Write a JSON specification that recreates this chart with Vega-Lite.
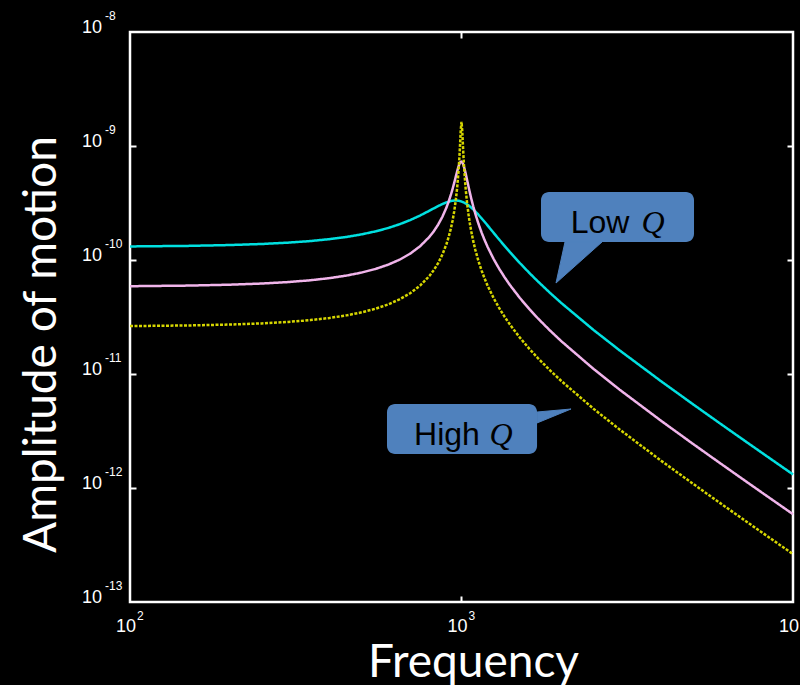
{
  "$schema": "https://vega.github.io/schema/vega-lite/v6.json",
  "width": 663,
  "height": 570,
  "autosize": {"type": "none"},
  "padding": {"left": 130, "top": 32, "right": 7, "bottom": 83},
  "background": "black",
  "config": {
    "view": {"stroke": "white", "strokeWidth": 2.5},
    "axis": {
      "domain": false, "grid": false, "labels": false,
      "tickColor": "white", "tickWidth": 2, "tickSize": -6,
      "titleColor": "white", "titleFont": "Lato", "titleFontSize": 46, "titleFontWeight": "normal"
    }
  },
  "datasets": {
    "curves": [
      {"f": 100, "c": 1.315e-10, "p": 5.889e-11, "y": 2.632e-11},
      {"f": 150, "c": 1.330e-10, "p": 5.964e-11, "y": 2.666e-11},
      {"f": 200, "c": 1.353e-10, "p": 6.072e-11, "y": 2.715e-11},
      {"f": 250, "c": 1.382e-10, "p": 6.217e-11, "y": 2.780e-11},
      {"f": 300, "c": 1.420e-10, "p": 6.404e-11, "y": 2.864e-11},
      {"f": 350, "c": 1.466e-10, "p": 6.641e-11, "y": 2.970e-11},
      {"f": 400, "c": 1.524e-10, "p": 6.935e-11, "y": 3.102e-11},
      {"f": 450, "c": 1.594e-10, "p": 7.303e-11, "y": 3.268e-11},
      {"f": 500, "c": 1.679e-10, "p": 7.762e-11, "y": 3.475e-11},
      {"f": 550, "c": 1.782e-10, "p": 8.342e-11, "y": 3.736e-11},
      {"f": 600, "c": 1.906e-10, "p": 9.084e-11, "y": 4.071e-11},
      {"f": 650, "c": 2.057e-10, "p": 1.005e-10, "y": 4.512e-11},
      {"f": 700, "c": 2.240e-10, "p": 1.136e-10, "y": 5.109e-11},
      {"f": 750, "c": 2.456e-10, "p": 1.320e-10, "y": 5.954e-11},
      {"f": 800, "c": 2.705e-10, "p": 1.594e-10, "y": 7.234e-11},
      {"f": 825, "c": 2.837e-10, "p": 1.788e-10, "y": 8.153e-11},
      {"f": 850, "c": 2.969e-10, "p": 2.041e-10, "y": 9.380e-11},
      {"f": 875, "c": 3.093e-10, "p": 2.383e-10, "y": 1.110e-10},
      {"f": 900, "c": 3.201e-10, "p": 2.869e-10, "y": 1.368e-10},
      {"f": 915, "c": 3.253e-10, "p": 3.267e-10, "y": 1.595e-10},
      {"f": 930, "c": 3.292e-10, "p": 3.780e-10, "y": 1.917e-10},
      {"f": 940, "c": 3.310e-10, "p": 4.207e-10, "y": 2.220e-10},
      {"f": 950, "c": 3.321e-10, "p": 4.716e-10, "y": 2.641e-10},
      {"f": 960, "c": 3.325e-10, "p": 5.312e-10, "y": 3.262e-10},
      {"f": 970, "c": 3.320e-10, "p": 5.977e-10, "y": 4.265e-10},
      {"f": 980, "c": 3.307e-10, "p": 6.638e-10, "y": 6.119e-10},
      {"f": 985, "c": 3.298e-10, "p": 6.921e-10, "y": 7.736e-10},
      {"f": 990, "c": 3.286e-10, "p": 7.139e-10, "y": 1.025e-9},
      {"f": 995, "c": 3.273e-10, "p": 7.267e-10, "y": 1.387e-9},
      {"f": 1000, "c": 3.258e-10, "p": 7.288e-10, "y": 1.629e-9},
      {"f": 1005, "c": 3.240e-10, "p": 7.196e-10, "y": 1.375e-9},
      {"f": 1010, "c": 3.221e-10, "p": 7.002e-10, "y": 1.011e-9},
      {"f": 1015, "c": 3.201e-10, "p": 6.729e-10, "y": 7.595e-10},
      {"f": 1020, "c": 3.178e-10, "p": 6.403e-10, "y": 5.981e-10},
      {"f": 1030, "c": 3.129e-10, "p": 5.690e-10, "y": 4.131e-10},
      {"f": 1040, "c": 3.074e-10, "p": 5.003e-10, "y": 3.129e-10},
      {"f": 1050, "c": 3.014e-10, "p": 4.399e-10, "y": 2.509e-10},
      {"f": 1060, "c": 2.950e-10, "p": 3.889e-10, "y": 2.089e-10},
      {"f": 1070, "c": 2.884e-10, "p": 3.464e-10, "y": 1.786e-10},
      {"f": 1085, "c": 2.780e-10, "p": 2.954e-10, "y": 1.463e-10},
      {"f": 1100, "c": 2.673e-10, "p": 2.561e-10, "y": 1.237e-10},
      {"f": 1125, "c": 2.494e-10, "p": 2.079e-10, "y": 9.788e-11},
      {"f": 1150, "c": 2.319e-10, "p": 1.738e-10, "y": 8.068e-11},
      {"f": 1175, "c": 2.155e-10, "p": 1.487e-10, "y": 6.838e-11},
      {"f": 1200, "c": 2.001e-10, "p": 1.295e-10, "y": 5.917e-11},
      {"f": 1250, "c": 1.731e-10, "p": 1.020e-10, "y": 4.630e-11},
      {"f": 1300, "c": 1.508e-10, "p": 8.355e-11, "y": 3.775e-11},
      {"f": 1350, "c": 1.324e-10, "p": 7.028e-11, "y": 3.167e-11},
      {"f": 1400, "c": 1.172e-10, "p": 6.032e-11, "y": 2.714e-11},
      {"f": 1500, "c": 9.398e-11, "p": 4.643e-11, "y": 2.084e-11},
      {"f": 1600, "c": 7.728e-11, "p": 3.725e-11, "y": 1.670e-11},
      {"f": 1700, "c": 6.487e-11, "p": 3.077e-11, "y": 1.379e-11},
      {"f": 1850, "c": 5.144e-11, "p": 2.402e-11, "y": 1.076e-11},
      {"f": 2000, "c": 4.197e-11, "p": 1.941e-11, "y": 8.686e-12},
      {"f": 2500, "c": 2.438e-11, "p": 1.110e-11, "y": 4.964e-12},
      {"f": 3000, "c": 1.611e-11, "p": 7.284e-12, "y": 3.258e-12},
      {"f": 4000, "c": 8.638e-12, "p": 3.886e-12, "y": 1.737e-12},
      {"f": 5000, "c": 5.410e-12, "p": 2.429e-12, "y": 1.086e-12},
      {"f": 6000, "c": 3.714e-12, "p": 1.666e-12, "y": 7.446e-13},
      {"f": 7000, "c": 2.710e-12, "p": 1.215e-12, "y": 5.429e-13},
      {"f": 8000, "c": 2.066e-12, "p": 9.253e-13, "y": 4.137e-13},
      {"f": 10000, "c": 1.315e-12, "p": 5.889e-13, "y": 2.632e-13}
    ],
    "boxes": [
      {"name": "low", "x1": 1737, "x2": 5028, "y1": 3.948e-10, "y2": 1.438e-10},
      {"name": "high", "x1": 596, "x2": 1690, "y1": 5.46e-12, "y2": 1.987e-12}
    ],
    "pointers": [
      {"name": "low", "i": 1, "px": 2052, "py": 1.438e-10},
      {"name": "low", "i": 2, "px": 2653, "py": 1.438e-10},
      {"name": "low", "i": 3, "px": 1928, "py": 6.28e-11},
      {"name": "high", "i": 1, "px": 1690, "py": 4.64e-12},
      {"name": "high", "i": 2, "px": 2140, "py": 4.93e-12},
      {"name": "high", "i": 3, "px": 1690, "py": 3.72e-12}
    ],
    "words": [
      {"w": "Low", "q": "Q", "wx": 2617, "qx": 3782, "ty": 1.726e-10},
      {"w": "High", "q": "Q", "wx": 904, "qx": 1316, "ty": 2.38e-12}
    ],
    "yt": [
      {"v": 1e-8, "e": "-8"}, {"v": 1e-9, "e": "-9"}, {"v": 1e-10, "e": "-10"},
      {"v": 1e-11, "e": "-11"}, {"v": 1e-12, "e": "-12"}, {"v": 1e-13, "e": "-13"}
    ],
    "xt": [
      {"v": 100, "e": "2"}, {"v": 1000, "e": "3"}, {"v": 10000, "e": "4"}
    ]
  },
  "layer": [
    {
      "data": {"name": "curves"},
      "transform": [{"fold": ["c", "p", "y"], "as": ["s", "a"]}],
      "mark": {"type": "line", "strokeWidth": 2.5},
      "encoding": {
        "x": {"field": "f", "type": "quantitative", "scale": {"type": "log", "domain": [100, 10000]},
          "axis": {"orient": "bottom", "title": "Frequency", "values": [1000], "titleX": 343, "titleY": 74, "titleAlign": "center", "titleBaseline": "alphabetic", "titleAngle": 0}},
        "y": {"field": "a", "type": "quantitative", "scale": {"type": "log", "domain": [1e-13, 1e-8]},
          "axis": {"orient": "left", "title": "Amplitude of motion", "values": [1e-12, 1e-11, 1e-10, 1e-9], "titleX": -75, "titleY": 312, "titleAlign": "center", "titleBaseline": "alphabetic", "titleAngle": -90}},
        "color": {"field": "s", "type": "nominal", "scale": {"domain": ["c", "p", "y"], "range": ["#00e0e0", "#f0b4ea", "#d6d600"]}, "legend": null},
        "strokeDash": {"field": "s", "type": "nominal", "scale": {"domain": ["c", "p", "y"], "range": [[1, 0], [1, 0], [3, 1.5]]}, "legend": null}
      }
    },
    {
      "data": {"name": "boxes"},
      "mark": {"type": "rect", "fill": "#4f81bd", "cornerRadius": 8},
      "encoding": {
        "x": {"field": "x1", "type": "quantitative", "scale": {"type": "log", "domain": [100, 10000]},
          "axis": {"orient": "top", "title": null, "values": [1000]}},
        "x2": {"field": "x2"},
        "y": {"field": "y1", "type": "quantitative", "scale": {"type": "log", "domain": [1e-13, 1e-8]},
          "axis": {"orient": "right", "title": null, "values": [1e-12, 1e-11, 1e-10, 1e-9]}},
        "y2": {"field": "y2"}
      }
    },
    {
      "data": {"name": "pointers"},
      "mark": {"type": "line", "fill": "#4f81bd", "stroke": "#4f81bd", "strokeWidth": 1, "interpolate": "linear-closed"},
      "encoding": {
        "x": {"field": "px", "type": "quantitative", "scale": {"type": "log", "domain": [100, 10000]}, "axis": null},
        "y": {"field": "py", "type": "quantitative", "scale": {"type": "log", "domain": [1e-13, 1e-8]}, "axis": null},
        "detail": {"field": "name"},
        "order": {"field": "i", "type": "quantitative"}
      }
    },
    {
      "data": {"name": "words"},
      "mark": {"type": "text", "font": "Liberation Sans", "fontSize": 32, "color": "black", "align": "center", "baseline": "alphabetic"},
      "encoding": {
        "x": {"field": "wx", "type": "quantitative", "scale": {"type": "log", "domain": [100, 10000]}, "axis": null},
        "y": {"field": "ty", "type": "quantitative", "scale": {"type": "log", "domain": [1e-13, 1e-8]}, "axis": null},
        "text": {"field": "w"}
      }
    },
    {
      "data": {"name": "words"},
      "mark": {"type": "text", "font": "Liberation Serif", "fontStyle": "italic", "fontSize": 32, "color": "black", "align": "center", "baseline": "alphabetic"},
      "encoding": {
        "x": {"field": "qx", "type": "quantitative", "scale": {"type": "log", "domain": [100, 10000]}, "axis": null},
        "y": {"field": "ty", "type": "quantitative", "scale": {"type": "log", "domain": [1e-13, 1e-8]}, "axis": null},
        "text": {"field": "q"}
      }
    },
    {
      "data": {"name": "yt"},
      "mark": {"type": "text", "font": "Liberation Sans", "fontSize": 18, "color": "white", "align": "right", "baseline": "alphabetic", "dx": -28, "dy": 1},
      "encoding": {
        "x": {"datum": 100, "type": "quantitative", "scale": {"type": "log", "domain": [100, 10000]}, "axis": null},
        "y": {"field": "v", "type": "quantitative", "scale": {"type": "log", "domain": [1e-13, 1e-8]}, "axis": null},
        "text": {"value": "10"}
      }
    },
    {
      "data": {"name": "yt"},
      "mark": {"type": "text", "font": "Liberation Sans", "fontSize": 12, "color": "white", "align": "left", "baseline": "alphabetic", "dx": -25, "dy": -12},
      "encoding": {
        "x": {"datum": 100, "type": "quantitative", "scale": {"type": "log", "domain": [100, 10000]}, "axis": null},
        "y": {"field": "v", "type": "quantitative", "scale": {"type": "log", "domain": [1e-13, 1e-8]}, "axis": null},
        "text": {"field": "e"}
      }
    },
    {
      "data": {"name": "xt"},
      "mark": {"type": "text", "font": "Liberation Sans", "fontSize": 18, "color": "white", "align": "center", "baseline": "alphabetic", "dx": -4, "dy": 30},
      "encoding": {
        "x": {"field": "v", "type": "quantitative", "scale": {"type": "log", "domain": [100, 10000]}, "axis": null},
        "y": {"datum": 1e-13, "type": "quantitative", "scale": {"type": "log", "domain": [1e-13, 1e-8]}, "axis": null},
        "text": {"value": "10"}
      }
    },
    {
      "data": {"name": "xt"},
      "mark": {"type": "text", "font": "Liberation Sans", "fontSize": 12, "color": "white", "align": "left", "baseline": "alphabetic", "dx": 7, "dy": 18},
      "encoding": {
        "x": {"field": "v", "type": "quantitative", "scale": {"type": "log", "domain": [100, 10000]}, "axis": null},
        "y": {"datum": 1e-13, "type": "quantitative", "scale": {"type": "log", "domain": [1e-13, 1e-8]}, "axis": null},
        "text": {"field": "e"}
      }
    }
  ],
  "resolve": {"axis": {"x": "independent", "y": "independent"}}
}
